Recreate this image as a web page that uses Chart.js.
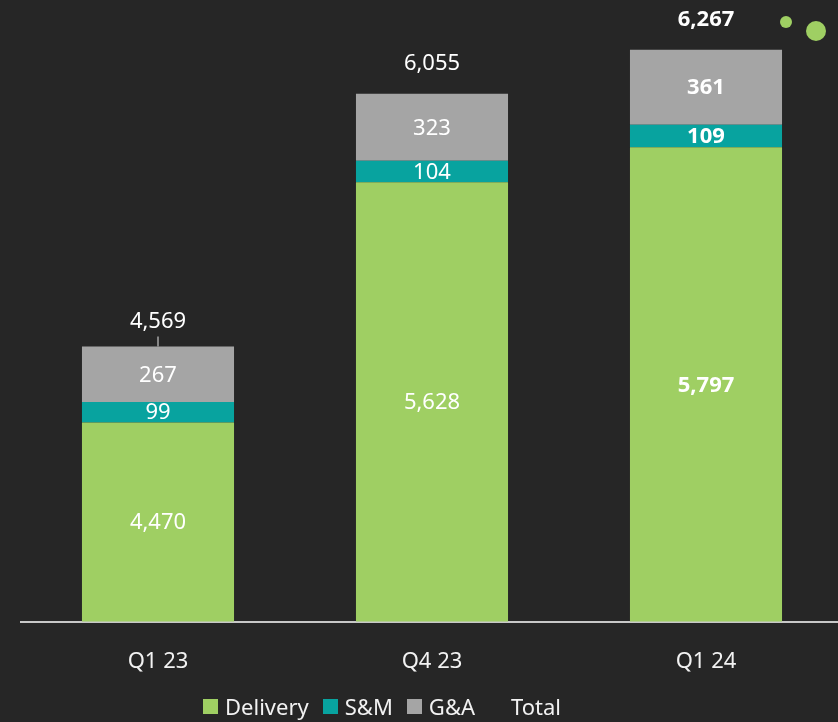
<!DOCTYPE html>
<html>
<head>
<meta charset="utf-8">
<script src="https://cdn.jsdelivr.net/npm/chart.js@4"></script>
<style>
  html, body { margin: 0; padding: 0; background: #262626; overflow: hidden; }
  #wrap { position: relative; width: 843px; height: 722px; }
  .dot { position: absolute; border-radius: 50%; background: #9fcf63; }
  #legend {
    position: absolute; left: 203px; top: 691px; height: 30px;
    display: flex; align-items: center; gap: 14px;
    font: 22px "Noto Sans", "Open Sans", sans-serif; color: #f2f2f2;
  }
  .legend-item { display: flex; align-items: center; gap: 7px; }
  .legend-box { width: 15px; height: 15px; }
</style>
</head>
<body>
<div id="wrap">
  <canvas id="costChart" width="843" height="722"></canvas>
  <div class="dot" style="left:780px;top:16px;width:12px;height:12px"></div>
  <div class="dot" style="left:806px;top:21px;width:20px;height:20px"></div>
  <div id="legend"></div>
</div>
<script>
// ── Data ──────────────────────────────────────────────────────
const quarters = ['Q1 23', 'Q4 23', 'Q1 24'];
const delivery = [4470, 5628, 5797];
const salesMarketing = [99, 104, 109];
const generalAdmin = [267, 323, 361];
const totals = [4569, 6055, 6267];

const boldQuarter = 'Q1 24';
const FONT = '"Noto Sans", "Open Sans", sans-serif';
const fmt = v => v.toLocaleString('en-US');

// ── Labels inside / above the stacks ─────────────────────────
const stackLabels = {
  id: 'stackLabels',
  afterDatasetsDraw(chart) {
    const { ctx, chartArea } = chart;
    ctx.save();
    ctx.textAlign = 'center';
    ctx.textBaseline = 'middle';
    ctx.fillStyle = '#ffffff';

    [0, 1, 2].forEach(di => {
      const meta = chart.getDatasetMeta(di);
      meta.data.forEach((bar, i) => {
        const bold = quarters[i] === boldQuarter;
        ctx.font = `${bold ? 'bold ' : ''}22px ${FONT}`;
        const v = chart.data.datasets[di].data[i];
        const base = Math.min(bar.base, chartArea.bottom);
        ctx.fillText(fmt(v), bar.x, (bar.y + base) / 2 + 1);
      });
    });

    // totals above the stack; first one hangs on a short leader line
    const top = chart.getDatasetMeta(2);
    top.data.forEach((bar, i) => {
      const bold = quarters[i] === boldQuarter;
      ctx.font = `${bold ? 'bold ' : ''}22px ${FONT}`;
      ctx.fillText(fmt(totals[i]), bar.x, bar.y - (i === 0 ? 25 : 30));
      if (i === 0) {
        ctx.strokeStyle = '#a6a6a6';
        ctx.lineWidth = 1.5;
        ctx.beginPath();
        ctx.moveTo(bar.x, bar.y - 10);
        ctx.lineTo(bar.x, bar.y);
        ctx.stroke();
      }
    });
    ctx.restore();
  }
};

// ── Chart ─────────────────────────────────────────────────────
const ctx = document.getElementById('costChart').getContext('2d');
const chart = new Chart(ctx, {
  type: 'bar',
  data: {
    labels: quarters,
    datasets: [
      { label: 'Delivery', data: delivery, backgroundColor: '#9fcf63' },
      { label: 'S&M', data: salesMarketing, backgroundColor: '#08a39f' },
      { label: 'G&A', data: generalAdmin, backgroundColor: '#a5a5a5' },
      {
        label: 'Total',
        data: totals,
        type: 'line',
        stack: 'total',
        showLine: false,
        pointRadius: 0,
        backgroundColor: 'rgba(0,0,0,0)',
        borderColor: 'rgba(0,0,0,0)'
      }
    ]
  },
  options: {
    responsive: false,
    animation: false,
    devicePixelRatio: 1,
    categoryPercentage: 1,
    barPercentage: 0.555,
    layout: { padding: { left: 21, right: 0, top: 0, bottom: 20 } },
    plugins: {
      tooltip: { enabled: false },
      legend: { display: false }
    },
    scales: {
      x: {
        stacked: true,
        grid: { display: false, drawTicks: false },
        border: { display: true, color: '#c8c8c8', width: 2 },
        ticks: { color: '#f2f2f2', padding: 27, font: { size: 22, family: FONT } }
      },
      y: {
        stacked: true,
        display: false,
        min: 3510,
        max: 6507
      }
    }
  },
  plugins: [stackLabels]
});

// ── Legend ────────────────────────────────────────────────────
document.getElementById('legend').innerHTML = chart.data.datasets.map(ds => `
  <div class="legend-item">
    <span class="legend-box" style="background:${ds.backgroundColor}"></span>
    <span>${ds.label.replace('&', '&amp;')}</span>
  </div>
`).join('');
</script>
</body>
</html>
